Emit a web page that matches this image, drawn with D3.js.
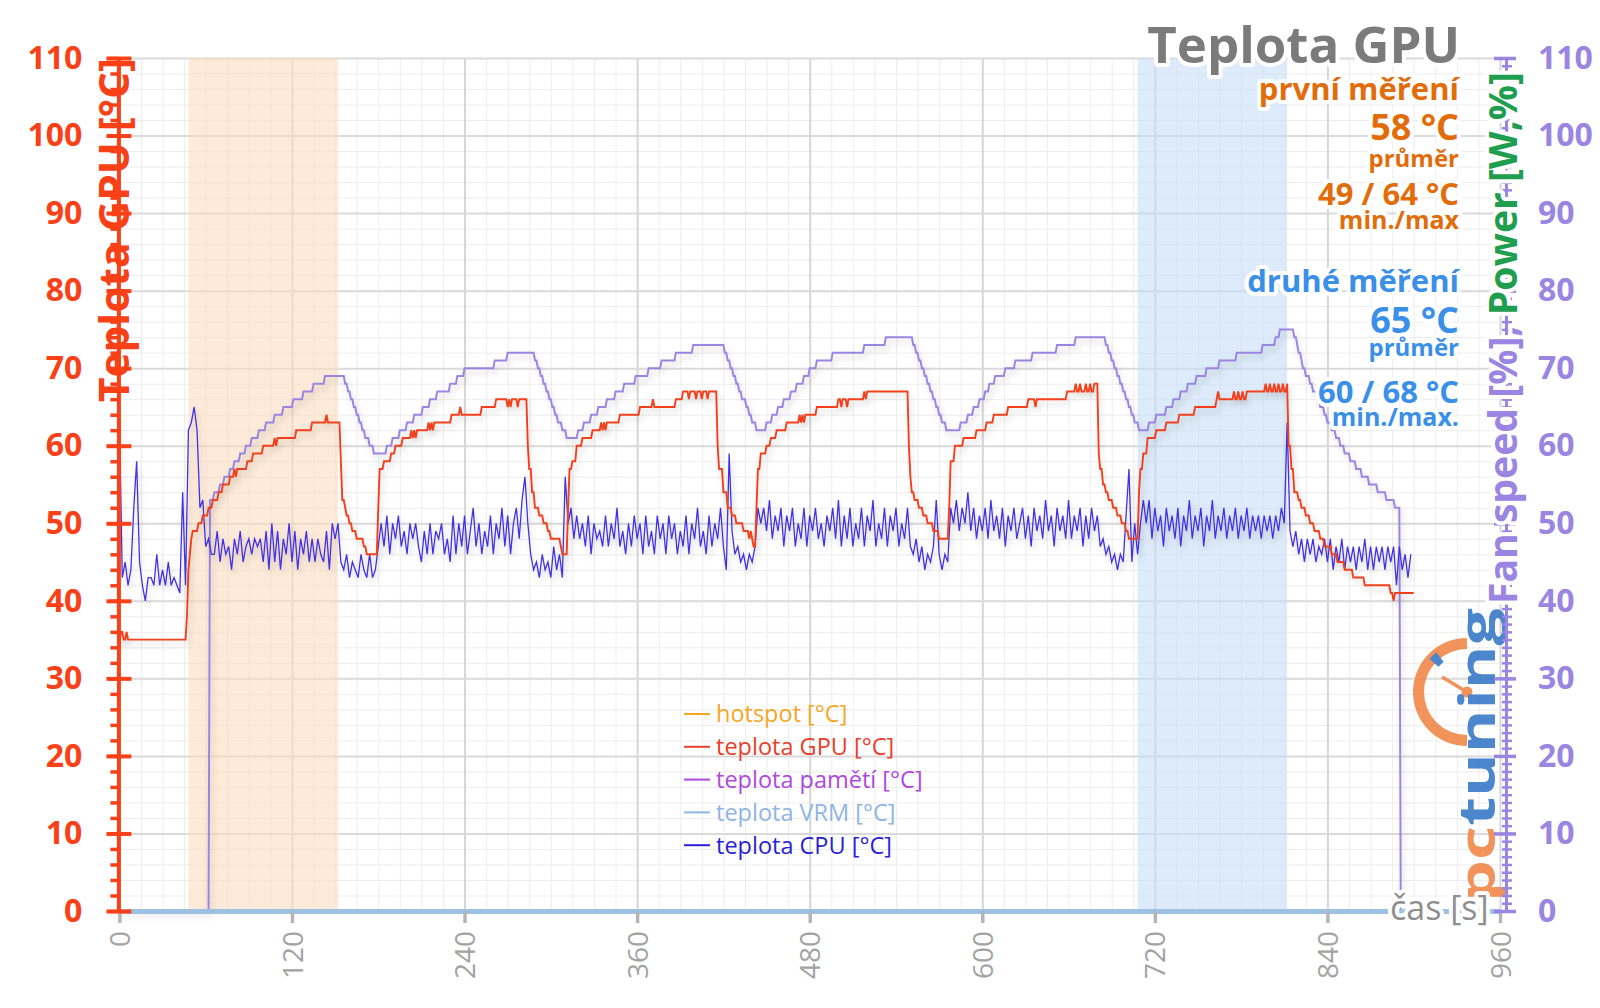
<!DOCTYPE html>
<html><head><meta charset="utf-8">
<script src="https://cdn.jsdelivr.net/npm/d3@7"></script>
<style>
body{margin:0;background:#fff;}
svg{display:block;font-family:"Open Sans","Noto Sans",sans-serif;}
</style></head><body>
<svg id="chart" width="1600" height="1008"></svg>
<script>
// ---------------- DATA ----------------
const yTicks = [0,10,20,30,40,50,60,70,80,90,100,110];
const xTicks = [0,120,240,360,480,600,720,840,960];
const firstBand = [48,152];
const secondBand = [708,812];

// Fan speed [%] (right axis), [time s, value] change points
const fanPoints = [[0,0],[63,53],[66,54],[70,55],[73,56],[77,57],[80,58],[84,59],[88,60],[92,61],[97,62],[102,63],[108,64],[114,65],[121,66],[128,67],[135,68],[143,69],
[157,68],[159,67],[161,66],[163,65],[165,64],[167,63],[169,62],[171,61],[174,60],[177,59],
[186,60],[190,61],[195,62],[200,63],[205,64],[211,65],[216,66],[221,67],[230,68],[235,69],[240,70],[261,71],[270,72],
[289,71],[291,70],[293,69],[295,68],[297,67],[299,66],[301,65],[303,64],[305,63],[308,62],[311,61],
[319,62],[323,63],[328,64],[333,65],[339,66],[345,67],[351,68],[359,69],[368,70],[377,71],[387,72],[399,73],
[421,72],[423,71],[425,70],[427,69],[429,68],[431,67],[433,66],[436,65],[438,64],[440,63],[443,62],
[450,63],[454,64],[458,65],[462,66],[467,67],[471,68],[476,69],[480,70],[485,71],[496,72],[518,73],[533,74],
[552,73],[554,72],[556,71],[558,70],[560,69],[562,68],[564,67],[566,66],[568,65],[570,64],[572,63],[575,62],
[585,63],[590,64],[594,65],[598,66],[602,67],[605,68],[609,69],[616,70],[623,71],[635,72],[652,73],[665,74],
[686,73],[688,72],[690,71],[692,70],[694,69],[696,68],[698,67],[700,66],[702,65],[704,64],[706,63],[709,62],
[716,63],[721,64],[728,65],[733,66],[738,67],[743,68],[749,69],[756,70],[765,71],[777,72],[795,73],[804,74],[807,75],
[817,74],[819,73],[820,72],[822,71],[823,70],[825,69],[828,68],[830,67],[833,66],[835,65],[838,64],[840,63],[843,62],[846,61],[849,60],[852,59],[856,58],[860,57],[864,56],[869,55],[875,54],[881,53],[887,52],[891,0],[900,0]];

// GPU temperature [°C], [time s, value] change points
const gpuPoints = [[0,34],[1,36],[3,35],[5,36],[6,35],
[47,38],[48,44],[49,46],[50,48],[51,49],[55,50],[58,51],[62,52],[65,53],[69,54],[72,55],[77,56],[80,57],[81,56],[82,57],[89,58],[93,59],[100,60],[108,61],[109,60],[110,61],[123,62],[134,63],[144,64],[145,63],
[154,58],[155,53],[157,52],[158,51],[160,50],[162,49],[165,48],[170,47],[172,46],
[180,52],[181,57],[184,58],[189,59],[192,60],[197,61],[203,62],[204,61],[205,62],[206,61],[207,62],[215,63],[216,62],[217,63],[218,62],[219,63],[231,64],[237,65],[238,64],[252,65],[262,66],[270,65],[271,66],[272,65],[273,66],[277,65],[278,66],
[284,60],[285,57],[287,54],[289,52],[292,51],[295,50],[298,49],[300,48],[307,47],[308,46],
[312,52],[313,57],[315,58],[318,60],[322,61],[329,62],[335,63],[336,62],[337,63],[338,62],[339,63],[348,64],[362,65],[371,66],[372,65],[387,66],[392,67],[396,66],[397,67],[401,66],[402,67],[405,66],[406,67],[409,66],[410,67],
[416,60],[417,57],[420,54],[423,52],[426,51],[429,50],[434,49],[438,48],[439,49],[440,48],[441,47],
[443,52],[444,57],[446,59],[450,60],[453,61],[457,62],[464,63],[473,64],[474,63],[475,64],[476,63],[477,64],[485,65],[500,66],[502,65],[503,66],[506,65],[507,66],[518,67],[519,66],[520,67],
[549,60],[550,56],[551,54],[553,53],[556,52],[559,51],[562,50],[566,49],[570,48],
[577,52],[578,58],[581,60],[587,61],[596,62],[603,63],[608,64],[618,65],[632,66],[637,65],[638,66],[659,67],[665,68],[666,67],[668,68],[669,67],[672,68],[673,67],[675,68],[676,67],[678,68],
[681,59],[682,57],[684,55],[686,54],[688,53],[691,52],[694,51],[697,50],[700,49],[702,48],
[709,54],[710,57],[712,59],[715,61],[721,62],[728,63],[737,64],[748,65],[763,66],[764,67],[765,66],[775,67],[776,66],[778,67],[779,66],[781,67],[782,66],[784,67],
[797,68],[798,67],[800,68],[801,67],[803,68],[804,67],[806,68],[807,67],[809,68],[810,67],[812,68],
[813,60],[815,57],[817,54],[820,53],[822,52],[825,51],[828,50],[831,49],[835,48],[838,47],[843,46],[847,45],[852,44],[858,43],[866,42],[884,41],[886,40],[887,41],[900,41]];

// CPU temperature [°C], one sample every 2 s starting at 0 s
const cpuStep = 2;
const cpuValues = [
64,43,45,42,44,52,58,45,42,40,
43,43,42,46,42,44,42,45,42,43,
42,41,54,42,62,63,65,62,52,53,
47,48,46,46,49,45,48,46,47,44,
48,46,49,45,47,48,46,48,47,48,
45,49,44,50,45,49,44,48,46,50,
45,49,44,48,46,49,45,48,45,48,
46,45,49,44,50,48,50,45,44,46,
43,45,44,43,46,44,43,46,43,44,
47,50,47,51,46,50,48,51,47,49,
46,50,48,50,47,45,49,46,50,46,
49,48,50,46,48,45,51,46,50,47,
51,46,49,52,47,50,46,49,47,51,
46,50,48,52,47,51,46,50,52,48,
53,56,50,46,44,45,43,46,44,45,
43,47,44,46,43,56,50,52,48,51,
48,50,47,51,46,50,48,49,47,51,
47,50,48,52,47,49,46,50,47,51,
48,50,46,51,47,49,46,51,48,50,
46,51,48,50,46,49,47,51,46,50,
48,52,47,49,46,51,47,50,48,52,
47,44,59,49,46,47,45,46,44,46,
45,47,52,50,52,49,53,48,51,49,
52,47,51,49,52,47,50,48,52,47,
51,49,52,48,50,47,51,49,52,48,
53,47,51,48,52,47,50,48,52,47,
51,49,53,47,50,48,52,47,51,49,
52,47,50,48,52,47,46,48,45,47,
44,46,45,47,53,46,44,46,45,52,
50,53,49,52,50,54,49,52,48,51,
49,52,48,53,49,51,48,52,47,51,
49,52,48,50,52,48,51,47,52,49,
51,48,53,49,51,47,52,49,51,48,
53,48,51,49,52,47,51,48,52,49,
51,47,48,46,47,45,46,44,46,45,
51,57,45,50,46,50,53,50,53,48,
52,49,51,47,52,49,51,48,52,47,
51,49,53,48,51,49,52,47,51,49,
53,48,51,49,52,48,51,49,52,48,
51,49,52,48,51,49,51,48,51,49,
51,48,51,49,52,50,63,49,47,49,
46,48,45,48,46,48,45,47,46,48,
45,48,44,47,45,48,44,47,45,47,
44,47,45,48,44,47,44,47,45,47,
44,47,45,47,42,47,44,46,43,46];

const legendLabels = ["hotspot [°C]","teplota GPU [°C]","teplota pamětí [°C]","teplota VRM [°C]","teplota CPU [°C]"];
const legendColors = ["#f5a623","#e8402a","#b048dc","#8fb5e3","#2a1fd8"];

const statsLines = [
  {t:"první měření", c:"#e36c0a", s:31, y:100},
  {t:"58 °C", c:"#e36c0a", s:36, y:140},
  {t:"průměr", c:"#e36c0a", s:24, y:167},
  {t:"49 / 64 °C", c:"#e36c0a", s:31, y:205},
  {t:"min./max", c:"#e36c0a", s:25, y:229},
  {t:"druhé měření", c:"#3a8fe8", s:31, y:292},
  {t:"65 °C", c:"#3a8fe8", s:36, y:333},
  {t:"průměr", c:"#3a8fe8", s:24, y:356},
  {t:"60 / 68 °C", c:"#3a8fe8", s:31, y:403},
  {t:"min./max.", c:"#3a8fe8", s:25, y:426}
];

// ---------------- CHART ----------------
(function(){
const RED = "#fa4016", PURPLE = "#9a86e2", GREEN = "#1f9e50";
const svg = d3.select("#chart");
const x = d3.scaleLinear().domain([0,960]).range([119.4,1500]);
const y = d3.scaleLinear().domain([0,110]).range([911,58]);
const yR = d3.scaleLinear().domain([0,110]).range([911,58]);
const yTop = y(110), yBottom = y(0);

const defs = svg.append("defs");
const f = defs.append("filter").attr("id","shadow").attr("x","-5%").attr("y","-10%").attr("width","110%").attr("height","130%");
f.append("feDropShadow").attr("dx",2).attr("dy",4).attr("stdDeviation",3).attr("flood-color","#000").attr("flood-opacity",0.17);

// grid
const grid = svg.append("g");
function vgrid(vals, color, w){
  grid.append("g").attr("transform",`translate(0,${yBottom})`)
    .call(d3.axisBottom(x).tickValues(vals).tickSize(-(yBottom-yTop)).tickFormat(""))
    .call(g=>g.select(".domain").remove())
    .call(g=>g.selectAll("line").attr("stroke",color).attr("stroke-width",w));
}
function hgrid(vals, color, w){
  grid.append("g").attr("transform",`translate(${x(0)},0)`)
    .call(d3.axisLeft(y).tickValues(vals).tickSize(-(x(960)-x(0))).tickFormat(""))
    .call(g=>g.select(".domain").remove())
    .call(g=>g.selectAll("line").attr("stroke",color).attr("stroke-width",w));
}
vgrid(d3.range(0,961,15), "#ededed", 1);
hgrid(d3.range(0,111,2), "#ededed", 1);
vgrid(xTicks, "#d6d6d6", 2);
hgrid(yTicks, "#dadada", 2);

// bands
svg.append("rect").attr("x",x(firstBand[0])).attr("width",x(firstBand[1])-x(firstBand[0]))
  .attr("y",yTop).attr("height",yBottom-yTop).attr("fill","#fcdcc0").attr("opacity",0.6);
svg.append("rect").attr("x",x(secondBand[0])).attr("width",x(secondBand[1])-x(secondBand[0]))
  .attr("y",yTop).attr("height",yBottom-yTop).attr("fill","#c6ddf7").attr("opacity",0.6);

// lines: change points held until one second before the next change (1 s logging)
const held = pts => { const out=[]; pts.forEach((p,i)=>{ out.push(p); const n=pts[i+1]; if(n && n[0]-p[0]>1) out.push([n[0]-1,p[1]]); }); return out; };
const lineOf = sc => d3.line().x(d=>x(d[0])).y(d=>sc(d[1]));
svg.append("path").datum(held(fanPoints)).attr("d",lineOf(yR))
  .attr("fill","none").attr("stroke",PURPLE).attr("stroke-width",2).attr("filter","url(#shadow)");
svg.append("path").datum(cpuValues).attr("d",d3.line().x((d,i)=>x(i*cpuStep)).y(d=>y(d)))
  .attr("fill","none").attr("stroke","#4332e2").attr("stroke-width",1.3).attr("filter","url(#shadow)");
svg.append("path").datum(held(gpuPoints)).attr("d",lineOf(y))
  .attr("fill","none").attr("stroke","#f2401c").attr("stroke-width",1.9).attr("filter","url(#shadow)");

// x axis
svg.append("g").attr("transform",`translate(0,${yBottom})`)
  .call(d3.axisBottom(x).tickValues(xTicks).tickSize(12).tickSizeOuter(0))
  .call(g=>g.select(".domain").attr("stroke","#9dc1e3").attr("stroke-width",5))
  .call(g=>g.selectAll(".tick line").attr("stroke","#b5b5b5").attr("stroke-width",3.5))
  .call(g=>g.selectAll(".tick text").attr("transform","rotate(-90)").attr("x",-20).attr("y",0)
     .attr("dy","0.36em").attr("text-anchor","end").attr("fill","#a3a3a3")
     .style("font-size","28px").style("font-family","'Open Sans',sans-serif"));

// logo (watermark)
const logo = svg.append("g").attr("opacity",0.92);
const gc = [1467, 692];
logo.append("path").attr("transform",`translate(${gc[0]},${gc[1]})`)
  .attr("d", d3.arc().innerRadius(43).outerRadius(54).startAngle(-Math.PI).endAngle(0)())
  .attr("fill","#f08a4e");
logo.append("path").attr("transform",`translate(${gc[0]},${gc[1]})`)
  .attr("d", d3.arc().innerRadius(38).outerRadius(50).startAngle(-0.27*Math.PI).endAngle(-0.21*Math.PI)())
  .attr("fill","#3d7cc9");
logo.append("line").attr("x1",gc[0]).attr("y1",gc[1]).attr("x2",gc[0]-25).attr("y2",gc[1]-15)
  .attr("stroke","#f08a4e").attr("stroke-width",3.5);
logo.append("circle").attr("cx",gc[0]).attr("cy",gc[1]).attr("r",5.5).attr("fill","#f08a4e");
const lt = logo.append("text").attr("transform","translate(1495,902) rotate(-90)")
  .attr("text-anchor","start").style("font-size","50px").style("font-weight","700")
  .attr("textLength",294).attr("lengthAdjust","spacingAndGlyphs");
lt.append("tspan").attr("fill","#f08a4e").text("pc");
lt.append("tspan").attr("fill","#3d7cc9").text("tuning");

// left axis
const halo = sel=>sel.attr("stroke","#fff").attr("stroke-width",8).attr("stroke-linejoin","round").attr("paint-order","stroke");
svg.append("g").attr("transform",`translate(${x(0)-1},0)`)
  .call(d3.axisLeft(y).tickValues(d3.range(0,111,2)).tickSize(8).tickSizeOuter(0).tickFormat(""))
  .call(g=>g.select(".domain").attr("stroke",RED).attr("stroke-width",4))
  .call(g=>g.selectAll(".tick line").attr("stroke",RED).attr("stroke-width",3.5));
svg.append("g").attr("transform",`translate(${x(0)-1},0)`)
  .call(d3.axisLeft(y).tickValues(yTicks).tickSize(12).tickSizeOuter(0))
  .call(g=>g.select(".domain").remove())
  .call(g=>g.selectAll(".tick line").attr("x1",13).attr("stroke",RED).attr("stroke-width",4))
  .call(g=>g.selectAll(".tick text").attr("x",-36).attr("fill",RED)
     .style("font-size","32px").style("font-weight","700").style("font-family","'Open Sans',sans-serif"));

// right axis
svg.append("g").attr("transform",`translate(1506,0)`)
  .call(d3.axisRight(yR).tickValues(d3.range(0,111,1)).tickSize(6).tickSizeOuter(0).tickFormat(""))
  .call(g=>g.select(".domain").attr("stroke",PURPLE).attr("stroke-width",3))
  .call(g=>g.selectAll(".tick line").attr("x1",-4).attr("stroke",PURPLE).attr("stroke-width",2.5));
svg.append("g").attr("transform",`translate(1506,0)`)
  .call(d3.axisRight(yR).tickValues(yTicks).tickSize(10).tickSizeOuter(0))
  .call(g=>g.select(".domain").remove())
  .call(g=>g.selectAll(".tick line").attr("x1",-12).attr("stroke",PURPLE).attr("stroke-width",3.5))
  .call(g=>g.selectAll(".tick text").attr("x",32).attr("fill",PURPLE)
     .style("font-size","32px").style("font-weight","700").style("font-family","'Open Sans',sans-serif"));

// axis titles
svg.append("text").attr("transform","translate(114,58) rotate(-90)").attr("dy","0.36em")
  .attr("text-anchor","end").attr("fill",RED).style("font-size","41px").style("font-weight","700")
  .attr("textLength",344).attr("lengthAdjust","spacingAndGlyphs").text("Teplota GPU [°C]");
const rt = svg.append("text").attr("transform","translate(1503,604) rotate(-90)").attr("dy","0.36em")
  .attr("text-anchor","start").style("font-size","39px").style("font-weight","700")
  .attr("textLength",532).attr("lengthAdjust","spacingAndGlyphs").call(halo);
rt.append("tspan").attr("fill",PURPLE).text("Fan speed [%], ");
rt.append("tspan").attr("fill",GREEN).text("Power [W,%]");

svg.append("text").attr("x",1390).attr("y",920).attr("fill","#8f8f8f")
  .style("font-size","34px").call(halo).text("čas [s]");

// title + stats
svg.append("text").attr("x",1460).attr("y",63).attr("text-anchor","end").attr("fill","#7b7b7b")
  .style("font-size","51px").style("font-weight","700").call(halo).text("Teplota GPU");
svg.append("g").selectAll("text").data(statsLines).join("text")
  .attr("x",1459).attr("y",d=>d.y).attr("text-anchor","end").attr("fill",d=>d.c)
  .style("font-size",d=>d.s+"px").style("font-weight","700").call(halo).text(d=>d.t);

// legend
const lg = svg.append("g").attr("transform","translate(684,714)");
const items = lg.selectAll("g").data(legendLabels).join("g").attr("transform",(d,i)=>`translate(0,${i*32.8})`);
items.append("line").attr("x1",0).attr("x2",26).attr("y1",0).attr("y2",0)
  .attr("stroke",(d,i)=>legendColors[i]).attr("stroke-width",2);
items.append("text").attr("x",32).attr("y",0).attr("dy","0.36em").attr("fill",(d,i)=>legendColors[i])
  .style("font-size","23.5px").text(d=>d);
})();
</script>
</body></html>
